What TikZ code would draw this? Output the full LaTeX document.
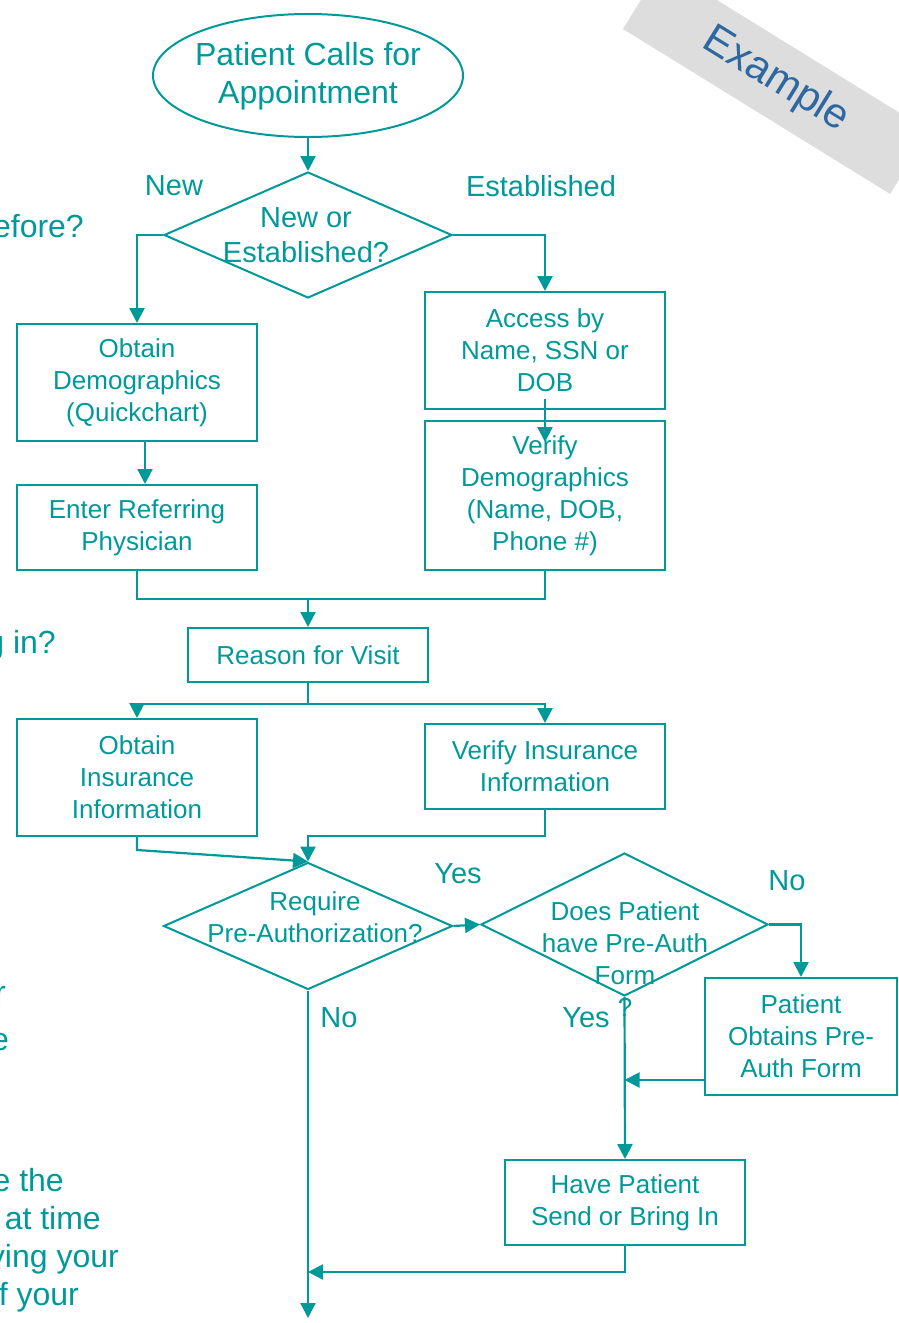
\documentclass[tikz,border=0pt]{standalone}
\usepackage{fontspec}
\setmainfont{Liberation Sans}
\usetikzlibrary{shapes.geometric,arrows.meta}
\definecolor{flowteal}{RGB}{0,153,153}
\definecolor{bandgray}{RGB}{221,221,221}
\definecolor{exblue}{RGB}{46,104,160}
\begin{document}
\begin{tikzpicture}[x=1pt,y=-1pt,
  every node/.style={text=flowteal, inner sep=0pt},
  box/.style={draw=flowteal, line width=2pt, rectangle, minimum width=240pt,
    align=center, font=\fontsize{26}{32}\selectfont},
  dia/.style={draw=flowteal, line width=2pt, diamond},
  oval/.style={draw=flowteal, line width=2pt, ellipse},
  txt/.style={align=center, font=\fontsize{26}{32}\selectfont},
  bigtxt/.style={align=center, font=\fontsize{32}{38}\selectfont},
  lbl/.style={font=\fontsize{29}{35}\selectfont},
  side/.style={anchor=base east, font=\fontsize{32}{38}\selectfont},
  conn/.style={draw=flowteal, line width=2.2pt},
  arr/.style={conn, -{Triangle[length=15pt,width=15pt]}}
]
\useasboundingbox (0,0) rectangle (899,1323);
\clip (0,0) rectangle (899,1323);

% corner banner
\node[fill=bandgray, minimum width=314pt, minimum height=74pt, rotate=-31.7,
  text=exblue, font=\fontsize{42}{50}\selectfont] (ex) at (776,80) {Example};

% side notes running off the left edge
\node[side] (s1) at (84,237) {efore?};
\node[side] (s2) at (56,653) {g in?};
\node[side] (s3) at (6,1003) {r};
\node[side] (s4) at (9,1050) {e};
\node[side] (s5) at (64,1191) {e the};
\node[side] (s6) at (101,1229) {at time};
\node[side] (s7) at (119,1267) {ying your};
\node[side] (s8) at (79,1305) {f your};

% start
\node[oval, minimum width=310pt, minimum height=123pt] (ell) at (308,75.5) {};
\node[bigtxt] (ellt) at (308,76) {Patient Calls for\\Appointment};

% new or established
\node[dia, minimum width=288pt, minimum height=126pt] (d1) at (308,235) {};
\node[lbl, align=center] (d1t) at (306,235.5) {New or\\Established?};
\node[lbl] (lnew) at (174,186) {New};
\node[lbl] (lest) at (541,186) {Established};

% boxes
\node[box, minimum height=117pt] (demo) at (137,382.5) {Obtain\\Demographics\\(Quickchart)};
\node[box, minimum height=117pt] (acc) at (545,350.5) {Access by\\Name, SSN or\\DOB};
\node[box, minimum height=149pt] (ver) at (545,495.5) {Verify\\Demographics\\(Name, DOB,\\Phone \#)};
\node[box, minimum height=85pt] (ref) at (137,527.5) {Enter Referring\\Physician};
\node[box, minimum height=54pt] (rsn) at (308,655) {Reason for Visit};
\node[box, minimum height=117pt] (oins) at (137,777.5) {Obtain\\Insurance\\Information};
\node[box, minimum height=85pt] (vins) at (545,766.5) {Verify Insurance\\Information};

% pre-authorization decisions
\node[dia, minimum width=289pt, minimum height=127pt] (d2) at (308,926) {};
\node[txt] (d2t) at (315,917) {Require\\Pre-Authorization?};
\node[dia, minimum width=287pt, minimum height=143pt] (d3) at (624.5,924.5) {};
\node[txt] (d3t) at (625,959) {Does Patient\\have Pre-Auth\\Form\\?};
\node[box, minimum width=192pt, minimum height=117pt] (pobt) at (801,1036.5) {Patient\\Obtains Pre-\\Auth Form};
\node[box, minimum height=85pt] (have) at (625,1202.5) {Have Patient\\Send or Bring In};

\node[lbl] (lyes1) at (458,874) {Yes};
\node[lbl] (lno1) at (787,881) {No};
\node[lbl] (lyes2) at (586,1018) {Yes};
\node[lbl] (lno2) at (339,1018) {No};

% junction points
\coordinate (j1) at (308,599);
\coordinate (j2) at (308,704);
\coordinate (j3) at (308,1272);
\coordinate (endpt) at (308,1318);
\coordinate (pf) at ([yshift=-43.5pt]pobt.west);

% connectors
\draw[arr] (ell.south) -- (d1.north);
\draw[arr] (d1.west) -| (demo.north);
\draw[arr] (d1.east) -| (acc.north);
\draw[arr] ([yshift=11pt]acc.south) -- ([yshift=-22pt]ver.north);
\draw[arr] ([xshift=8pt]demo.south) -- ([xshift=8pt]ref.north);
\draw[conn] (ref.south) |- (j1);
\draw[conn] (ver.south) |- (j1);
\draw[arr] (j1) -- (rsn.north);
\draw[conn] (rsn.south) -- (j2);
\draw[arr] (j2) -| (oins.north);
\draw[arr] (j2) -| (vins.north);
\draw[arr] (oins.south) -- ++(0,13) -- (d2.north);
\draw[arr] (vins.south) -- ++(0,26) -| (d2.north);
\draw[arr] (d2.east) -- (d3.west);
\draw[arr] (d3.east) -| (pobt.north);
\draw[arr] (d3.south) -- (have.north);
\draw[arr] (pf) -- (d3.south |- pf);
\draw[arr] (have.south) |- (j3);
\draw[arr] (d2.south) -- (endpt);
\end{tikzpicture}
\end{document}
